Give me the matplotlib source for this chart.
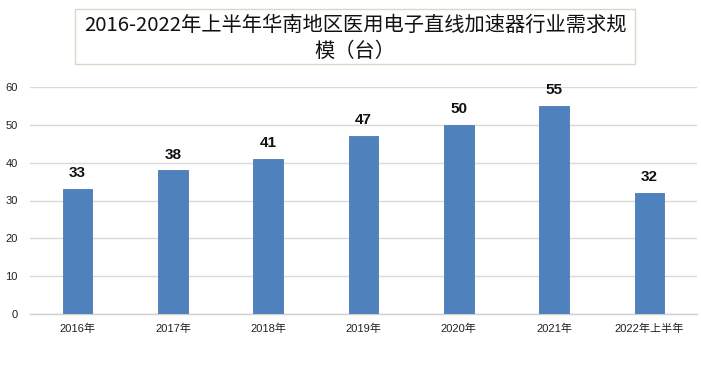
import matplotlib
matplotlib.use("Agg")
import matplotlib.pyplot as plt
from matplotlib.patches import Rectangle

plt.rcParams['font.family'] = ['Noto Sans CJK SC', 'DejaVu Sans']

categories = ["2016年", "2017年", "2018年", "2019年", "2020年", "2021年", "2022年上半年"]
values = [33, 38, 41, 47, 50, 55, 32]
yticks = [0, 10, 20, 30, 40, 50, 60]
title_lines = ["2016-2022年上半年华南地区医用电子直线加速器行业需求规", "模（台）"]

num_font = ['Liberation Sans', 'Noto Sans CJK SC']

fig = plt.figure(figsize=(7.01, 3.68), dpi=100)
ax = fig.add_axes([30/701, 1-314/368, 667/701, 227/368])

x = list(range(len(categories)))
ax.bar(x, values, width=0.31, color="#4f81bd", edgecolor="#4a7ab5", linewidth=0.6, zorder=3)
for xi, v in zip(x, values):
    ax.text(xi, v + 2.3, str(v), ha="center", va="bottom", fontsize=11, fontweight="bold",
            color="#111111", family=num_font)

ax.set_xlim(-0.5, len(categories) - 0.5)
ax.set_ylim(0, 60)
ax.set_yticks(yticks)
ax.set_xticks(x)
ax.set_xticklabels(categories, fontsize=8, color="#222222", family=num_font)
for lab in ax.get_yticklabels():
    lab.set_family(num_font)
ax.tick_params(axis="y", labelsize=8, colors="#222222", length=0, pad=9)
ax.tick_params(axis="x", length=0, pad=7)
ax.grid(axis="y", color="#d9d9d9", linewidth=1, zorder=0)
for s in ["top", "right", "left"]:
    ax.spines[s].set_visible(False)
ax.spines["bottom"].set_color("#d0d0d0")
ax.spines["bottom"].set_linewidth(1)

# title box
box = Rectangle((75/701, 1-64/368), (635-75)/701, (64-9)/368, transform=fig.transFigure,
                facecolor="white", edgecolor="#d8d8c8", linewidth=1)
fig.patches.append(box)
fig.text(355/701, 1-25/368, title_lines[0], ha="center", va="center", fontsize=14.6, color="#111111")
fig.text(355/701, 1-51/368, title_lines[1], ha="center", va="center", fontsize=14.6, color="#111111")

fig.savefig("out.png", dpi=100)
